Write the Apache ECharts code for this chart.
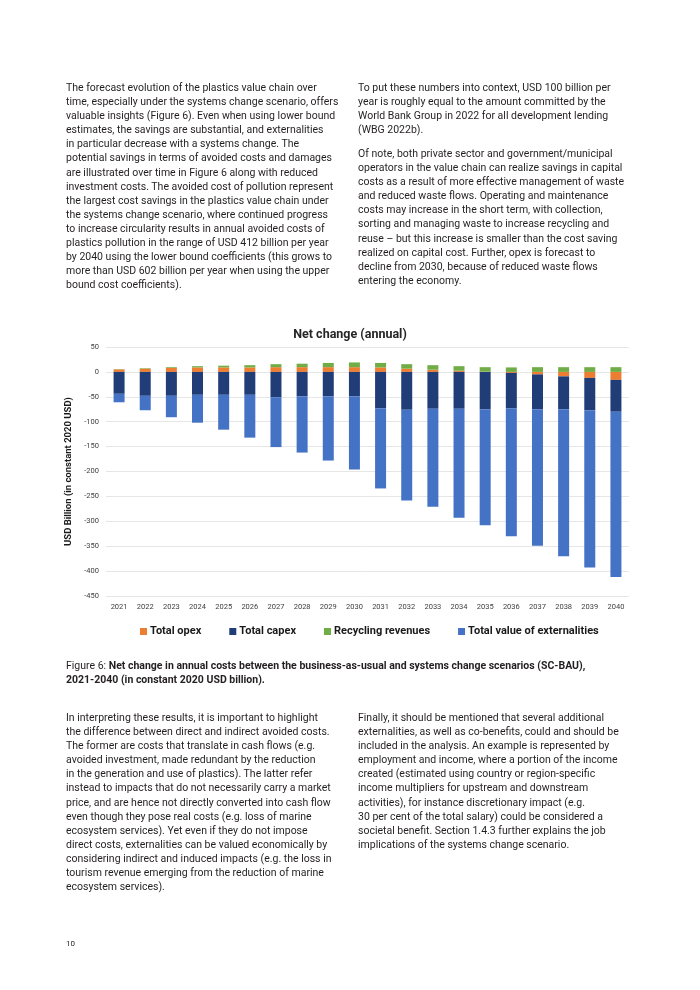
<!DOCTYPE html>
<html><head><meta charset="utf-8">
<script src="https://cdn.jsdelivr.net/npm/echarts@6/dist/echarts.min.js"></script>
<style>
html,body{margin:0;padding:0;background:#fff;}
#page{position:relative;width:700px;height:990px;overflow:hidden;}
#chart{position:absolute;left:0;top:0;width:700px;height:990px;}
.txt{position:absolute;font-family:Roboto,"Noto Sans",sans-serif;font-size:10.5px;line-height:14.1px;color:#231f20;white-space:pre;}
b{font-weight:700;}
</style></head><body>
<div id="page">
<div id="chart"></div>
<div class="txt" style="left:66px;top:81px;">The forecast evolution of the plastics value chain over
time, especially under the systems change scenario, offers
valuable insights (Figure 6). Even when using lower bound
estimates, the savings are substantial, and externalities
in particular decrease with a systems change. The
potential savings in terms of avoided costs and damages
are illustrated over time in Figure 6 along with reduced
investment costs. The avoided cost of pollution represent
the largest cost savings in the plastics value chain under
the systems change scenario, where continued progress
to increase circularity results in annual avoided costs of
plastics pollution in the range of USD 412 billion per year
by 2040 using the lower bound coefficients (this grows to
more than USD 602 billion per year when using the upper
bound cost coefficients).</div>
<div class="txt" style="left:358px;top:81px;">To put these numbers into context, USD 100 billion per
year is roughly equal to the amount committed by the
World Bank Group in 2022 for all development lending
(WBG 2022b).</div>
<div class="txt" style="left:358px;top:147px;">Of note, both private sector and government/municipal
operators in the value chain can realize savings in capital
costs as a result of more effective management of waste
and reduced waste flows. Operating and maintenance
costs may increase in the short term, with collection,
sorting and managing waste to increase recycling and
reuse – but this increase is smaller than the cost saving
realized on capital cost. Further, opex is forecast to
decline from 2030, because of reduced waste flows
entering the economy.</div>
<div class="txt" style="left:66px;top:659px;">Figure 6: <b>Net change in annual costs between the business-as-usual and systems change scenarios (SC-BAU),
2021-2040 (in constant 2020 USD billion).</b></div>
<div class="txt" style="left:66px;top:711px;">In interpreting these results, it is important to highlight
the difference between direct and indirect avoided costs.
The former are costs that translate in cash flows (e.g.
avoided investment, made redundant by the reduction
in the generation and use of plastics). The latter refer
instead to impacts that do not necessarily carry a market
price, and are hence not directly converted into cash flow
even though they pose real costs (e.g. loss of marine
ecosystem services). Yet even if they do not impose
direct costs, externalities can be valued economically by
considering indirect and induced impacts (e.g. the loss in
tourism revenue emerging from the reduction of marine
ecosystem services).</div>
<div class="txt" style="left:358px;top:711px;">Finally, it should be mentioned that several additional
externalities, as well as co-benefits, could and should be
included in the analysis. An example is represented by
employment and income, where a portion of the income
created (estimated using country or region-specific
income multipliers for upstream and downstream
activities), for instance discretionary impact (e.g.
30 per cent of the total salary) could be considered a
societal benefit. Section 1.4.3 further explains the job
implications of the systems change scenario.</div>
<div class="txt" style="left:66px;top:937px;font-size:8px;">10</div>
</div>
<script>
const years = ['2021','2022','2023','2024','2025','2026','2027','2028','2029','2030','2031','2032','2033','2034','2035','2036','2037','2038','2039','2040'];
const totalOpex = [5, 6.5, 8, 9, 9, 9, 9.5, 9.5, 9.5, 9.5, 9, 6.5, 4.5, 2.5, 0.5, -2, -5, -9, -12, -16];
const totalCapex = [-44, -48, -48, -46, -46, -46, -51, -49, -49, -49, -73, -76, -74, -74, -75, -71, -70, -66, -65, -64];
const recyclingRevenues = [0.5, 1, 1.5, 2.5, 3.5, 4.5, 6, 7, 8.5, 9.5, 9, 9, 9, 9, 9, 9, 9.5, 9.5, 9.5, 9.5];
const externalities = [-17, -29, -43, -56, -70, -86, -100, -113, -129, -147, -161, -182, -197, -219, -233, -257, -274, -295, -316, -332];
const yMin = -450, yMax = 50, yStep = 50;

const chart = echarts.init(document.getElementById('chart'), null, {renderer:'canvas'});
const bw = 11;
function s(name, data, color){
  return {name, type:'bar', stack:'net', data, barWidth:bw, itemStyle:{color}};
}
chart.setOption({
  animation:false,
  title:{text:'Net change (annual)', left:345, top:323, textAlign:'center',
    textStyle:{fontFamily:'Roboto', fontSize:12.5, fontWeight:'bold', color:'#262626'}},
  legend:{left:135, top:621, itemWidth:7, itemHeight:7, itemGap:28, icon:'rect',
    textStyle:{fontFamily:'Roboto', fontSize:11, fontWeight:'bold', color:'#1a1a1a', padding:[0,0,0,-2]},
    data:['Total opex','Total capex','Recycling revenues','Total value of externalities']},
  grid:{left:106, right:71, top:347, bottom:394},
  xAxis:{type:'category', data:years, axisLine:{show:false}, axisTick:{show:false},
    axisLabel:{fontFamily:'Roboto', fontSize:7.5, color:'#404040', margin:7}},
  yAxis:{type:'value', min:yMin, max:yMax, interval:yStep,
    name:'USD Billion (in constant 2020 USD)', nameLocation:'middle', nameGap:20,
    nameTextStyle:{fontFamily:'Roboto', fontSize:9.5, fontWeight:'bold', color:'#1a1a1a'},
    axisLabel:{fontFamily:'Roboto', fontSize:7.5, color:'#404040', margin:7},
    splitLine:{lineStyle:{color:'#e6e6e6', width:1}}},
  series:[
    s('Total opex', totalOpex, '#ED7D31'),
    s('Total capex', totalCapex, '#203D78'),
    s('Recycling revenues', recyclingRevenues, '#70AD47'),
    s('Total value of externalities', externalities, '#4472C4')
  ]
});
</script>
</body></html>
